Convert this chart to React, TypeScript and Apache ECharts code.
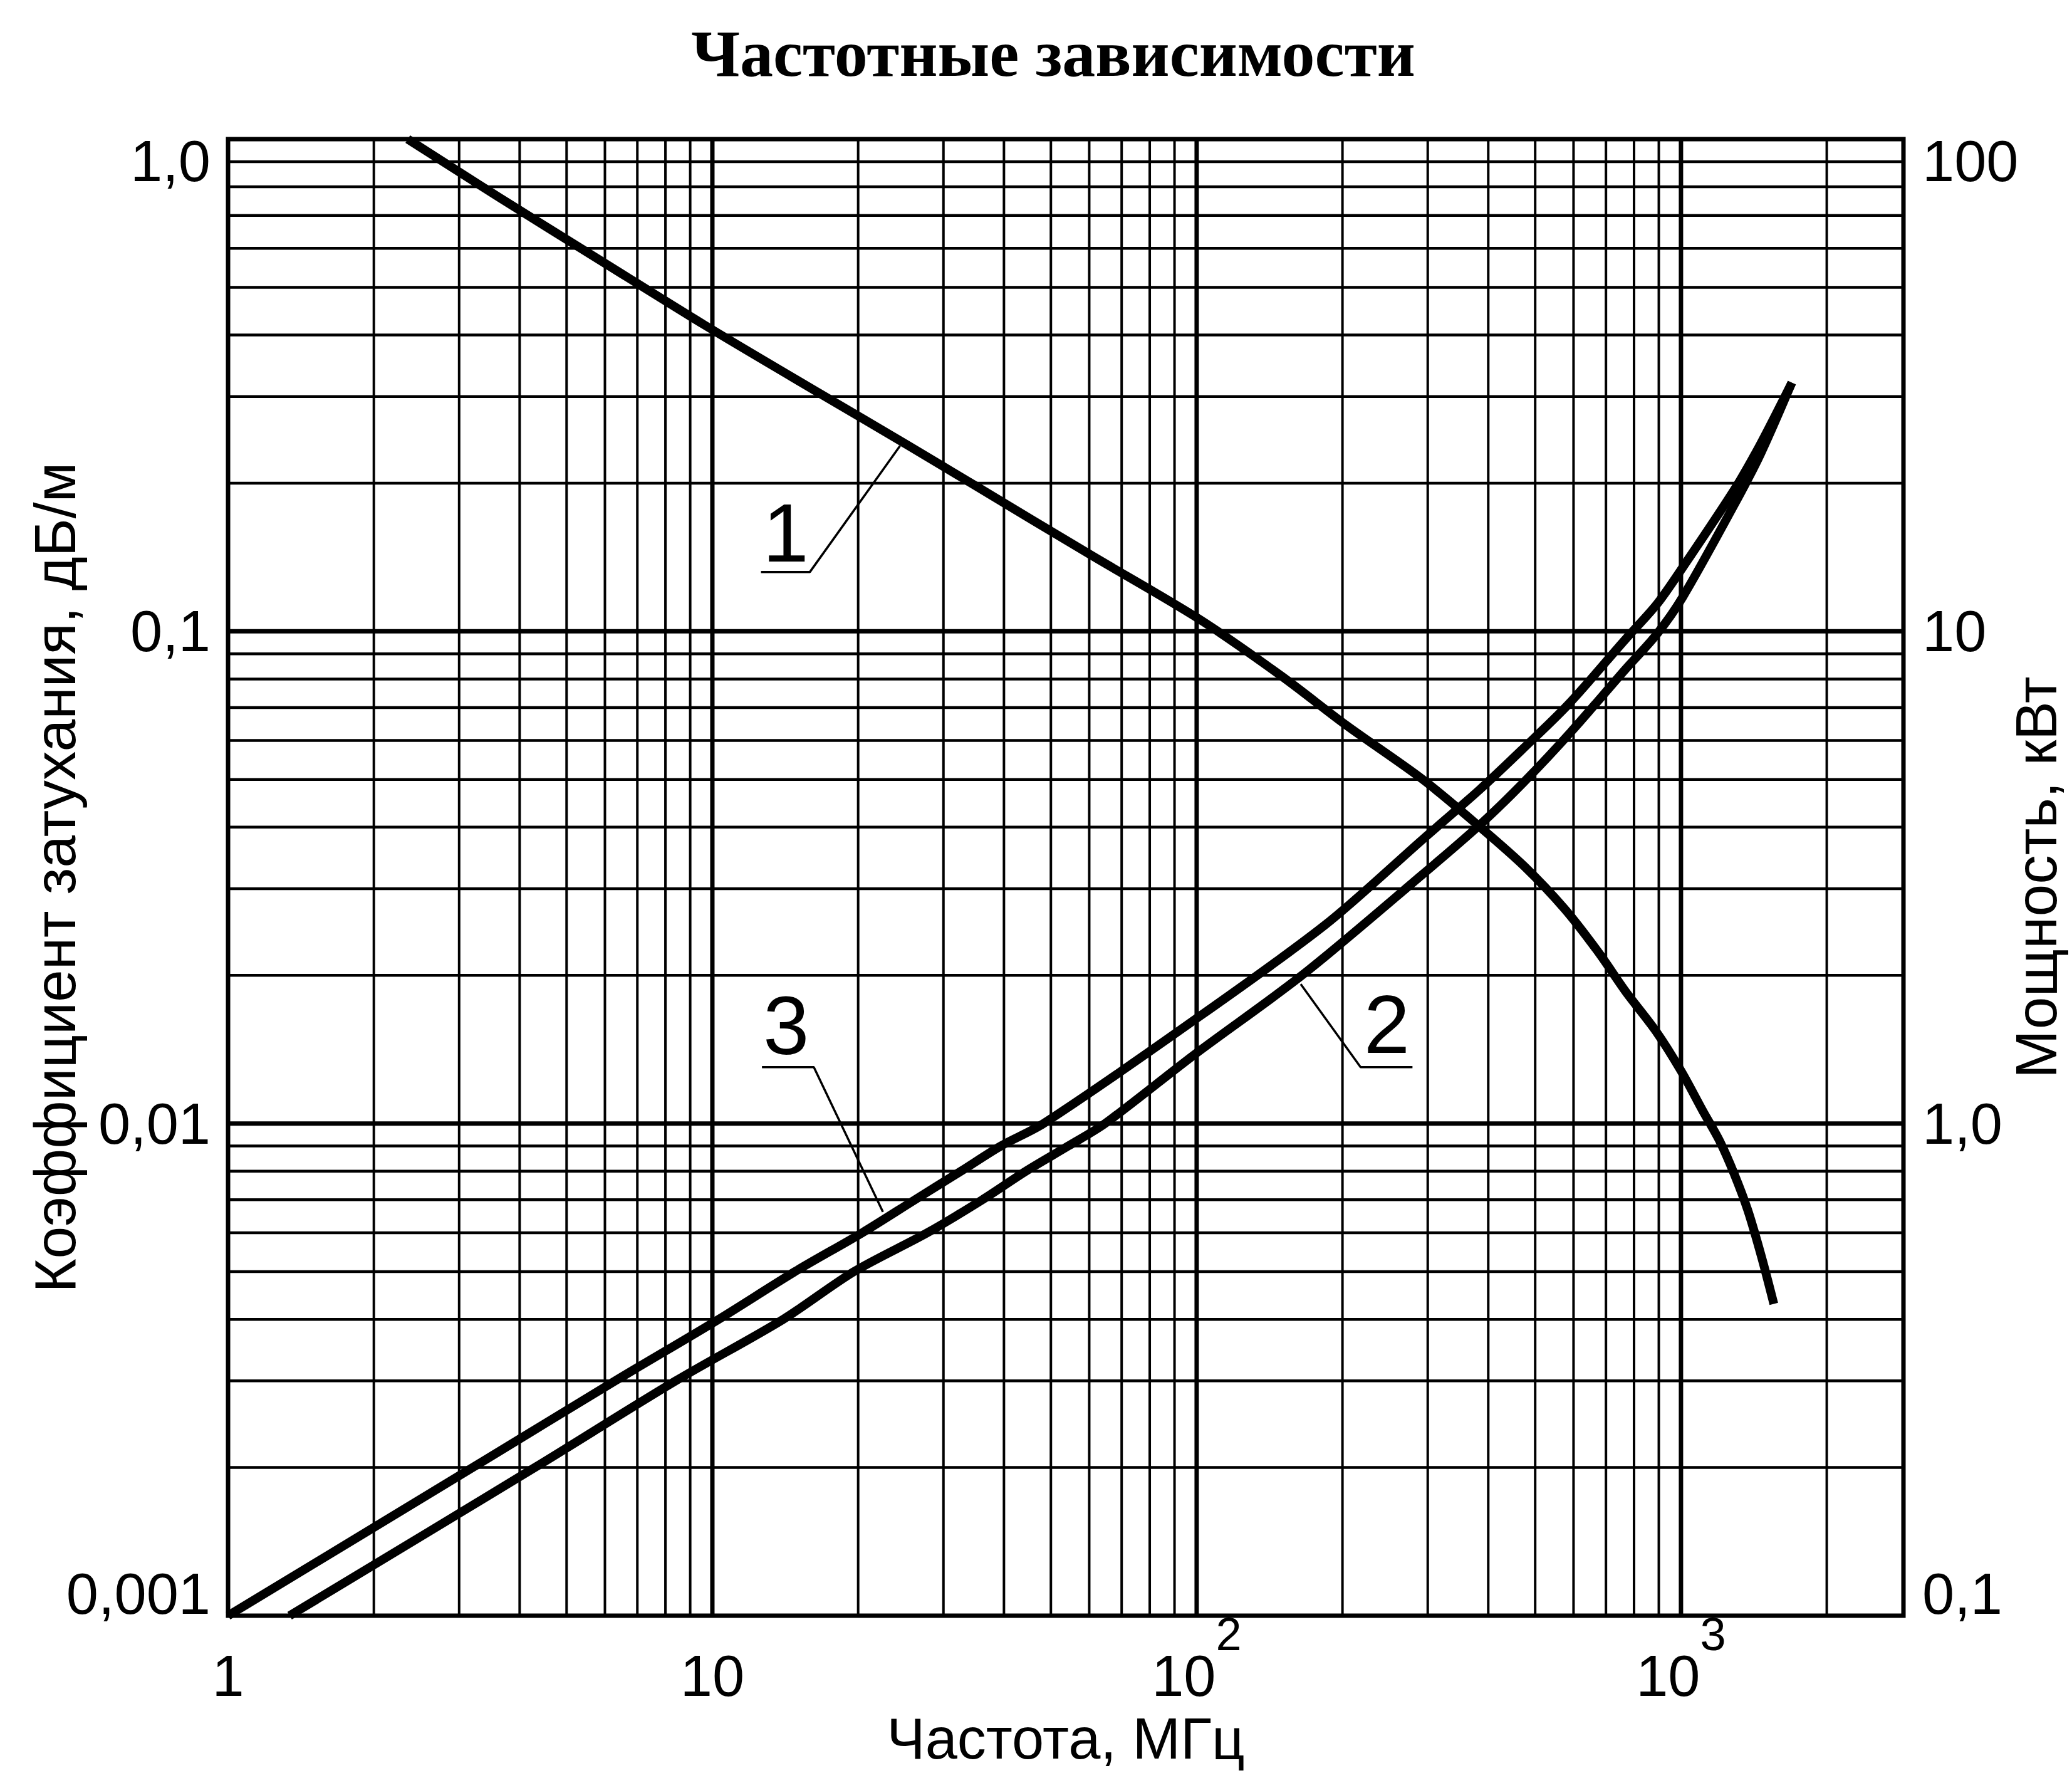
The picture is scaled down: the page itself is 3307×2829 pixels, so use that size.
import React, { useEffect, useRef } from 'react';
import * as echarts from 'echarts';

// Axis ranges
const X_MIN = 1;
const X_MAX = 2880;
const LEFT_MIN = 0.001;
const LEFT_MAX = 1;
const RIGHT_MIN = 0.1;
const RIGHT_MAX = 100;

// Tick labels
const xTickValues = [1, 10, 100, 1000];
const xTickBase = ['1', '10', '10', '10'];
const xTickSup = ['', '', '2', '3'];
const leftTickValues = [0.001, 0.01, 0.1, 1];
const leftTickLabels = ['0,001', '0,01', '0,1', '1,0'];
const rightTickValues = [0.1, 1, 10, 100];
const rightTickLabels = ['0,1', '1,0', '10', '100'];

// Grid lines
const xMajorGrid = [10, 100, 1000];
const xMinorGrid = [2, 3, 4, 5, 6, 7, 8, 9, 20, 30, 40, 50, 60, 70, 80, 90, 200, 300, 400, 500, 600, 700, 800, 900, 2000];
const yMajorGrid = [0.01, 0.1];
const yMinorGrid = [0.002, 0.003, 0.004, 0.005, 0.006, 0.007, 0.008, 0.009, 0.02, 0.03, 0.04, 0.05, 0.06, 0.07, 0.08, 0.09, 0.2, 0.3, 0.4, 0.5, 0.6, 0.7, 0.8, 0.9];

// Curve 1: power, kW (right axis)
const curve1Freq = [2.35, 3.64, 5.82, 9.6, 16.6, 25.3, 34.8, 60.4, 101, 150, 203, 293, 385, 475, 575, 675, 770, 888, 1000, 1110, 1203, 1288, 1375, 1468, 1555];
const curve1Power = [100, 76, 57, 42, 30.5, 23.9, 19.8, 14.3, 10.6, 8.1, 6.46, 5.0, 4.0, 3.33, 2.73, 2.23, 1.85, 1.54, 1.28, 1.06, 0.92, 0.79, 0.665, 0.534, 0.43];

// Curve 2: attenuation, dB/m (left axis), lower
const curve2Freq = [1.34, 4.3, 8.4, 14.0, 19.6, 27.8, 36.1, 44.4, 54.3, 64.7, 98.9, 166, 293, 385, 475, 593, 767, 891, 1009, 1289, 1459, 1694];
const curve2Atten = [0.001, 0.002, 0.003, 0.004, 0.005, 0.006, 0.007, 0.008, 0.009, 0.01, 0.0138, 0.0201, 0.0321, 0.0405, 0.0495, 0.0625, 0.0836, 0.0986, 0.1175, 0.181, 0.229, 0.32];

// Curve 3: attenuation, dB/m (left axis), upper
const curve3Freq = [1, 3.2, 6.3, 10.3, 14.8, 20.4, 26.2, 32.6, 39.4, 48.3, 94.3, 184, 293, 385, 469, 585, 767, 891, 1009, 1289, 1459, 1694];
const curve3Atten = [0.001, 0.002, 0.003, 0.004, 0.005, 0.006, 0.007, 0.008, 0.009, 0.01, 0.0157, 0.0253, 0.0378, 0.0478, 0.0574, 0.071, 0.0962, 0.1134, 0.135, 0.194, 0.24, 0.32];

// Curve number labels and leaders (left-axis units)
const labelNames = ['1', '2', '3'];
const labelFreq = [14.17, 247, 14.2];
const labelAtten = [0.1585, 0.0159, 0.0158];
const leader1Freq = [12.6, 15.9, 24.4];
const leader1Atten = [0.132, 0.132, 0.238];
const leader2Freq = [279, 218, 164];
const leader2Atten = [0.01302, 0.01302, 0.0192];
const leader3Freq = [12.66, 16.2, 22.5];
const leader3Atten = [0.01302, 0.01302, 0.00661];

const FONT = 'Liberation Sans';

function nearestIndex(values: number[], v: number): number {
  let best = -1;
  let bd = Infinity;
  values.forEach((t, i) => {
    const d = Math.abs(Math.log10(t) - Math.log10(v));
    if (d < bd) {
      bd = d;
      best = i;
    }
  });
  return bd < 0.01 ? best : -1;
}

function zip(a: number[], b: number[]) {
  return a.map((v, i) => [v, b[i]]);
}

function gridSeries(values: number[], dir: 'v' | 'h', width: number) {
  return {
    type: 'custom',
    xAxisIndex: 0,
    yAxisIndex: 0,
    silent: true,
    z: 1,
    clip: false,
    encode: { x: 0, y: 1 },
    data: values.map((v) => (dir === 'v' ? [v, LEFT_MIN] : [X_MIN, v])),
    renderItem: (params: any, api: any) => {
      const v = api.value(dir === 'v' ? 0 : 1);
      const p1 = dir === 'v' ? api.coord([v, LEFT_MIN]) : api.coord([X_MIN, v]);
      const p2 = dir === 'v' ? api.coord([v, LEFT_MAX]) : api.coord([X_MAX, v]);
      return {
        type: 'line',
        shape: { x1: p1[0], y1: p1[1], x2: p2[0], y2: p2[1] },
        style: { stroke: '#000', lineWidth: width },
      };
    },
  };
}

function leaderSeries(fx: number[], fy: number[]) {
  return {
    type: 'line',
    xAxisIndex: 0,
    yAxisIndex: 0,
    data: zip(fx, fy),
    symbol: 'none',
    silent: true,
    z: 4,
    lineStyle: { color: '#000', width: 3.5 },
  };
}

function curveSeries(name: string, yAxisIndex: number, fx: number[], fy: number[]) {
  return {
    name,
    type: 'line',
    xAxisIndex: 0,
    yAxisIndex,
    data: zip(fx, fy),
    symbol: 'none',
    smooth: 0.3,
    z: 5,
    lineStyle: { color: '#000', width: 14, cap: 'butt', join: 'round' },
  };
}

export default function App() {
  const ref = useRef<HTMLDivElement>(null);

  useEffect(() => {
    if (!ref.current) return;
    const chart = echarts.init(ref.current, null, { renderer: 'svg' });
    const yLabel = (values: number[], labels: string[], margin: number) => ({
      margin,
      fontFamily: FONT,
      fontSize: 92,
      lineHeight: 70,
      color: '#000',
      verticalAlignMaxLabel: 'top',
      verticalAlignMinLabel: 'bottom',
      formatter: (v: number) => {
        const i = nearestIndex(values, v);
        return i < 0 ? '' : labels[i];
      },
    });
    const option: any = {
      animation: false,
      backgroundColor: '#fff',
      grid: {
        left: 364,
        right: 3307 - 3038,
        top: 222,
        bottom: 2829 - 2578,
        containLabel: false,
        outerBoundsMode: 'none',
        show: true,
        borderColor: '#000',
        borderWidth: 7,
        backgroundColor: 'transparent',
      },
      graphic: [
        {
          type: 'text',
          x: 1681,
          y: 85,
          style: {
            text: 'Частотные зависимости',
            fontSize: 106,
            fontFamily: 'Liberation Serif',
            fontWeight: 'bold',
            fill: '#000',
            align: 'center',
            verticalAlign: 'middle',
          },
        },
      ],
      xAxis: {
        type: 'log',
        logBase: 10,
        min: X_MIN,
        max: X_MAX,
        splitNumber: 5,
        name: 'Частота, МГц',
        nameLocation: 'middle',
        nameGap: 150,
        nameMoveOverlap: false,
        nameTextStyle: { fontFamily: FONT, fontSize: 92, color: '#000' },
        axisLine: { show: false },
        axisTick: { show: false },
        splitLine: { show: false },
        axisLabel: {
          margin: -8,
          showMaxLabel: false,
          color: '#000',
          formatter: (v: number) => {
            const i = nearestIndex(xTickValues, v);
            if (i < 0) return '';
            return xTickSup[i] ? `{b|${xTickBase[i]}}{s|${xTickSup[i]}}` : `{b|${xTickBase[i]}}`;
          },
          rich: {
            b: { fontFamily: FONT, fontSize: 92, lineHeight: 150, verticalAlign: 'bottom', color: '#000' },
            s: { fontFamily: FONT, fontSize: 74, lineHeight: 66, verticalAlign: 'top', color: '#000' },
          },
        },
      },
      yAxis: [
        {
          type: 'log',
          logBase: 10,
          min: LEFT_MIN,
          max: LEFT_MAX,
          position: 'left',
          name: 'Коэффициент затухания, дБ/м',
          nameLocation: 'middle',
          nameRotate: 90,
          nameGap: 230,
          nameMoveOverlap: false,
          nameTextStyle: { fontFamily: FONT, fontSize: 93, color: '#000' },
          axisLine: { show: false },
          axisTick: { show: false },
          splitLine: { show: false },
          axisLabel: yLabel(leftTickValues, leftTickLabels, 28),
        },
        {
          type: 'log',
          logBase: 10,
          min: RIGHT_MIN,
          max: RIGHT_MAX,
          position: 'right',
          name: 'Мощность, кВт',
          nameLocation: 'middle',
          nameRotate: 90,
          nameGap: 165,
          nameMoveOverlap: false,
          nameTextStyle: { fontFamily: FONT, fontSize: 93, color: '#000' },
          axisLine: { show: false },
          axisTick: { show: false },
          splitLine: { show: false },
          axisLabel: yLabel(rightTickValues, rightTickLabels, 30),
        },
      ],
      series: [
        gridSeries(xMinorGrid, 'v', 4),
        gridSeries(xMajorGrid, 'v', 7),
        gridSeries(yMinorGrid, 'h', 4.5),
        gridSeries(yMajorGrid, 'h', 7),
        curveSeries('1', 1, curve1Freq, curve1Power),
        curveSeries('2', 0, curve2Freq, curve2Atten),
        curveSeries('3', 0, curve3Freq, curve3Atten),
        leaderSeries(leader1Freq, leader1Atten),
        leaderSeries(leader2Freq, leader2Atten),
        leaderSeries(leader3Freq, leader3Atten),
        {
          type: 'scatter',
          xAxisIndex: 0,
          yAxisIndex: 0,
          silent: true,
          z: 6,
          symbolSize: 0,
          itemStyle: { opacity: 1 },
          data: labelNames.map((n, i) => ({ name: n, value: [labelFreq[i], labelAtten[i]] })),
          label: {
            show: true,
            position: 'inside',
            formatter: (p: any) => p.name,
            fontFamily: FONT,
            fontSize: 132,
            color: '#000',
            opacity: 1,
          },
        },
      ],
    };
    chart.setOption(option);
    return () => chart.dispose();
  }, []);

  return (
    <div
      ref={ref}
      style={{ position: 'absolute', left: 0, top: 0, width: 3307, height: 2829, background: '#fff' }}
    />
  );
}
